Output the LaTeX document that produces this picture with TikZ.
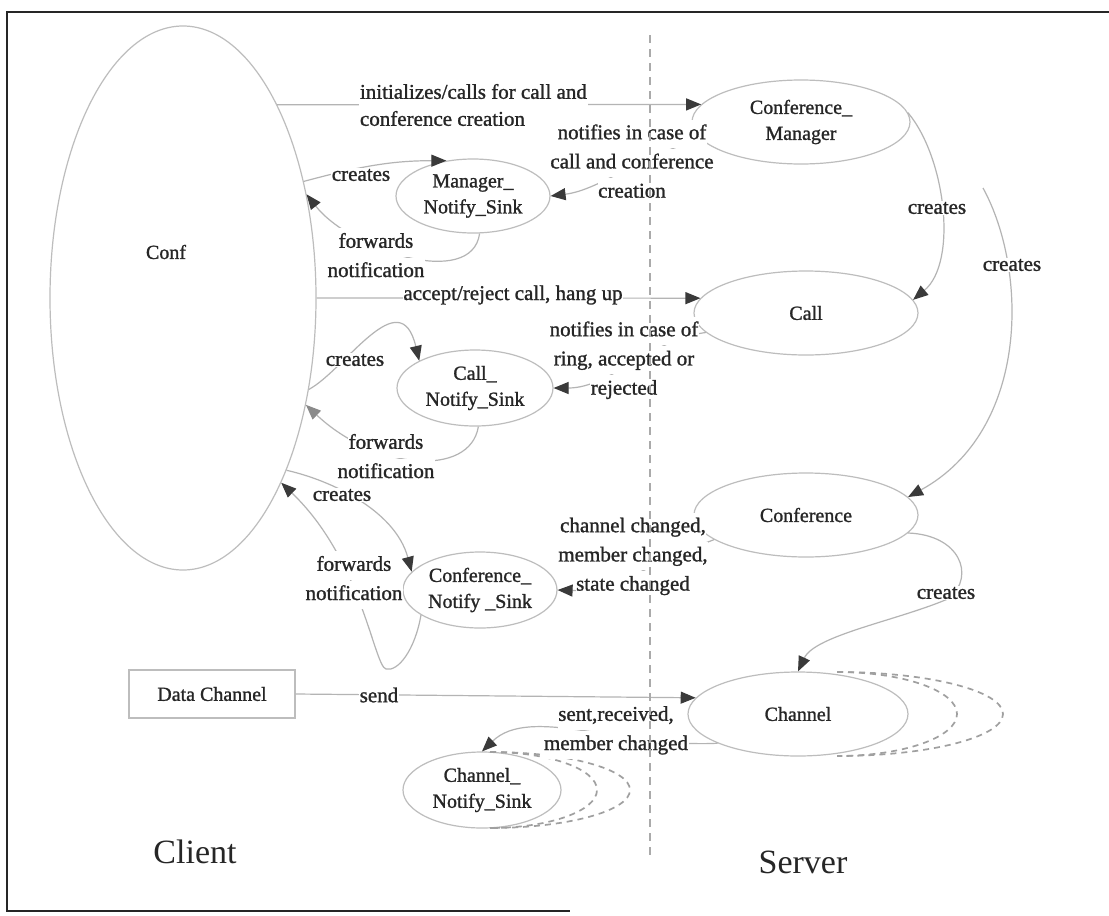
\documentclass[tikz,border=0pt]{standalone}
\usepackage{fontspec}
\setmainfont{Liberation Serif}
\newfontfamily\lf{Liberation Serif}[FakeBold=1.2]
\usetikzlibrary{shapes.geometric,arrows.meta,calc}
\definecolor{ellgray}{HTML}{BDBDBD}
\definecolor{lngray}{HTML}{B4B4B4}
\definecolor{tipc}{HTML}{3A3A3A}
\definecolor{tipgray}{HTML}{8A8A8A}
\definecolor{txt}{HTML}{262626}
\definecolor{dashc}{HTML}{A0A0A0}
\newcommand\wl[1]{{\setlength{\fboxsep}{0.6pt}\colorbox{white}{\strut #1}}}
\begin{document}
\begin{tikzpicture}[x=1pt,y=-1pt,
  ell/.style={ellipse,draw=ellgray,line width=1.2pt,inner sep=0pt,text=txt,
    font=\lf\fontsize{20}{26}\selectfont,align=center},
  lbl/.style={fill=white,inner sep=0.8pt,text=txt,font=\lf\fontsize{21}{27}\selectfont,align=center},
  mlbl/.style={inner sep=0pt,text=txt,font=\lf\fontsize{21}{27}\selectfont,align=center},
  conn/.style={draw=lngray,line width=1.2pt,-{Triangle[length=15pt,width=12pt,color=tipc]}},
  conngray/.style={draw=lngray,line width=1.2pt,-{Triangle[length=15pt,width=12pt,color=tipgray]}},
  dsh/.style={draw=dashc,line width=1.7pt,dash pattern=on 6pt off 5pt},
  side/.style={text=txt,font=\fontsize{34}{40}\selectfont}
  ]
\useasboundingbox (0,0) rectangle (1109,916);
\fill[white] (0,0) rectangle (1109,916);
% frame
\draw[black!85,line width=1.8pt] (1109,12) -- (7,12) -- (7,911) -- (570,911);

% nodes
\node[ell,minimum width=266pt,minimum height=544pt] (conf) at (183,298) {};
\node[text=txt,font=\lf\fontsize{20}{26}\selectfont] (conftext) at (166,252) {Conf};
\node[ell,minimum width=218pt,minimum height=84pt] (cm) at (801,122) {Conference\_\\Manager};
\node[ell,minimum width=154pt,minimum height=74pt] (mns) at (473,196) {Manager\_\\Notify\_Sink};
\node[ell,minimum width=224pt,minimum height=84pt] (call) at (806,313) {Call};
\node[ell,minimum width=156pt,minimum height=76pt] (cns) at (475,388) {Call\_\\Notify\_Sink};
\node[ell,minimum width=224pt,minimum height=84pt] (conference) at (806,515) {Conference};
\node[ell,minimum width=154pt,minimum height=76pt] (confns) at (480,590) {Conference\_\\Notify \_Sink};
\node[ell,minimum width=220pt,minimum height=84pt] (channel) at (798,714) {Channel};
\node[ell,minimum width=158pt,minimum height=76pt] (chns) at (482,790) {Channel\_\\Notify\_Sink};
\node[draw=ellgray,line width=1.2pt,minimum width=166pt,minimum height=48pt,inner sep=0pt,
  text=txt,font=\lf\fontsize{20}{26}\selectfont] (dc) at (212,694) {Data Channel};

% stacked instances (dashed)
\draw[dsh] ($(channel.center)+(39,-42)$) arc[start angle=90,end angle=-90,x radius=120pt,y radius=42pt];
\draw[dsh] ($(channel.center)+(39,-42)$) arc[start angle=90,end angle=-90,x radius=166pt,y radius=42pt];
\draw[dsh] ($(chns.center)+(8,-38)$) arc[start angle=90,end angle=-90,x radius=107pt,y radius=38pt];
\draw[dsh] ($(chns.center)+(8,-38)$) arc[start angle=90,end angle=-90,x radius=140pt,y radius=38pt];

% connectors
\draw[conn] (conf.64) -- (cm.170);
\draw[conn] (cm.190) .. controls (640,155) and (600,190) .. (mns.east);
\draw[conn] (conf.44) to[out=15,in=180] (mns.127);
\draw[conn] (mns.-80) .. controls (472,290) and (350,250) .. (conf.40);
\draw[conn] (conf.east) -- (call.172);
\draw[conn] (call.191) .. controls (650,340) and (610,388) .. (cns.east);
\draw[conn] (conf.-36) .. controls (345,370) and (400,280) .. (cns.154);
\draw[conngray] (cns.-85) .. controls (470,478) and (375,470) .. (conf.-41);
\draw[conn] (cm.5) to[out=-50,in=40,looseness=0.8] (call.7);
\coordinate (bigstart) at (983,188);
\draw[conn] (bigstart) .. controls (1028,270) and (1030,430) .. (conference.10);
\draw[conn] (conference.195) .. controls (660,560) and (610,592) .. (confns.east);
\draw[conn] (conf.-59) .. controls (330,480) and (395,510) .. (confns.165);
\draw[conn] (confns.203) .. controls (415,650) and (398,672) .. (386,669)
   .. controls (374,666) and (362,560) .. (conf.-62);
\draw[conn] (conference.-10) .. controls (960,535) and (975,575) .. (950,598)
   .. controls (900,620) and (815,635) .. (channel.north);
\draw[conn] (dc.east) -- (channel.171);
\draw[conn] (channel.200) .. controls (620,748) and (530,705) .. (chns.north);

% labels
\node[lbl,align=left,anchor=west] (linit) at (359,105) {initializes/calls for call and\\conference creation};
\node[mlbl] (lmnot) at (632,163) {\wl{notifies in case of}\\\wl{call and conference}\\\wl{creation}};
\node[lbl] (lmcre) at (361,175) {creates};
\node[mlbl] (lmfwd) at (376,257) {\wl{forwards}\\\wl{notification}};
\node[lbl] (lacc) at (513,295) {accept/reject call, hang up};
\node[mlbl] (lcnot) at (624,360) {\wl{notifies in case of}\\\wl{ring, accepted or}\\\wl{rejected}};
\node[lbl] (lccre) at (355,360) {creates};
\node[mlbl] (lcfwd) at (386,458) {\wl{forwards}\\\wl{notification}};
\node[lbl] (lcmcre) at (937,208) {creates};
\node[lbl] (lbigcre) at (1012,265) {creates};
\node[lbl] (lcocre) at (342,495) {creates};
\node[mlbl] (lcofwd) at (354,580) {\wl{forwards}\\\wl{notification}};
\node[mlbl] (lconot) at (633,556) {\wl{channel changed,}\\\wl{member changed,}\\\wl{state changed}};
\node[lbl] (lco2ch) at (946,593) {creates};
\node[lbl] (lsend) at (379,695) {send};
\node[mlbl] (lsent) at (616,730) {\wl{sent,received,}\\\wl{member changed}};

\node[side] (client) at (195,852) {Client};
\node[side] (server) at (803,862) {Server};

% client/server divider
\draw[draw=dashc!90,line width=2.2pt,dash pattern=on 8pt off 6pt] (650,35) -- (650,855);
\end{tikzpicture}
\end{document}
